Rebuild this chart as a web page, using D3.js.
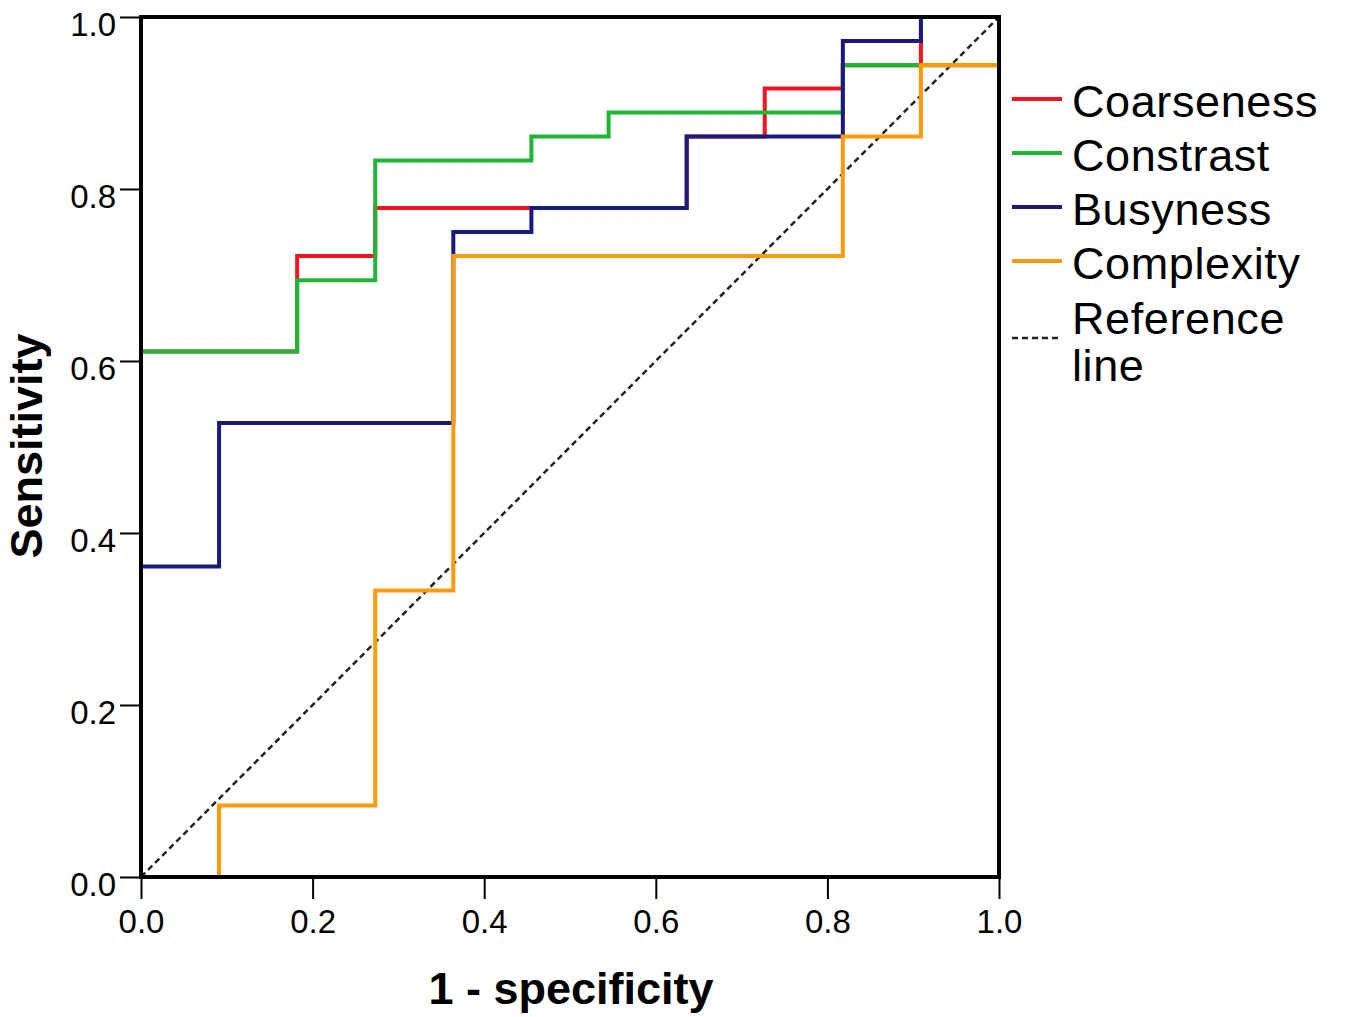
<!DOCTYPE html>
<html>
<head>
<meta charset="utf-8">
<script src="https://cdn.jsdelivr.net/npm/d3@7"></script>
<style>
  html, body { margin: 0; padding: 0; background: #fff; }
  svg { display: block; }
</style>
</head>
<body>
<svg id="chart" width="1345" height="1017"></svg>
<script>
// ---- Data (ROC step points: 1 - specificity, sensitivity) ----
const seriesNames = ["Coarseness", "Constrast", "Busyness", "Complexity"];

const coarsenessX = [0, 0, 0.182, 0.182, 0.273, 0.273, 0.636, 0.636, 0.727, 0.727, 0.818, 0.818, 0.909, 0.909, 1];
const coarsenessY = [0, 0.611, 0.611, 0.722, 0.722, 0.778, 0.778, 0.861, 0.861, 0.917, 0.917, 0.944, 0.944, 1, 1];

const constrastX = [0, 0, 0.182, 0.182, 0.273, 0.273, 0.455, 0.455, 0.545, 0.545, 0.818, 0.818, 1, 1];
const constrastY = [0, 0.611, 0.611, 0.694, 0.694, 0.833, 0.833, 0.861, 0.861, 0.889, 0.889, 0.944, 0.944, 1];

const busynessX = [0, 0, 0.091, 0.091, 0.364, 0.364, 0.455, 0.455, 0.636, 0.636, 0.818, 0.818, 0.909, 0.909, 1];
const busynessY = [0, 0.361, 0.361, 0.528, 0.528, 0.75, 0.75, 0.778, 0.778, 0.861, 0.861, 0.972, 0.972, 1, 1];

const complexityX = [0, 0.091, 0.091, 0.273, 0.273, 0.364, 0.364, 0.818, 0.818, 0.909, 0.909, 1, 1];
const complexityY = [0, 0, 0.083, 0.083, 0.333, 0.333, 0.722, 0.722, 0.861, 0.861, 0.944, 0.944, 1];

const referenceX = [0, 1];
const referenceY = [0, 1];

const xTicks = [0, 0.2, 0.4, 0.6, 0.8, 1.0];
const yTicks = [0, 0.2, 0.4, 0.6, 0.8, 1.0];
const tickLabels = ["0.0", "0.2", "0.4", "0.6", "0.8", "1.0"];

const colors = ["#f2141f", "#1fb536", "#1a1a7c", "#ff9a0c"];

// ---- Layout ----
const svg = d3.select("#chart");
const x = d3.scaleLinear().domain([0, 1]).range([141, 999]);
const y = d3.scaleLinear().domain([0, 1]).range([877, 17]);

const zip = (xs, ys) => xs.map((v, i) => [v, ys[i]]);
const line = d3.line().x(d => x(d[0])).y(d => y(d[1]));

// Axes
const xAxis = d3.axisBottom(x).tickValues(xTicks)
  .tickFormat((d, i) => tickLabels[i]).tickSize(22).tickPadding(10);
const yAxis = d3.axisLeft(y).tickValues(yTicks)
  .tickFormat((d, i) => tickLabels[i]).tickSize(21).tickPadding(4);

const gx = svg.append("g").attr("transform", `translate(0,${y(0)})`).call(xAxis);
const gy = svg.append("g").attr("transform", `translate(${x(0)},0)`).call(yAxis);
[gx, gy].forEach(g => {
  g.select(".domain").remove();
  g.selectAll(".tick line").attr("stroke", "#000").attr("stroke-width", 2);
  g.selectAll(".tick text")
    .attr("fill", "#000")
    .style("font-family", "Arial, 'Liberation Sans', sans-serif")
    .style("font-size", "33px");
});
gy.selectAll(".tick text").attr("dy", "0.55em");
gx.selectAll(".tick text").attr("dy", "0.72em");

// Reference line
svg.append("path")
  .attr("d", line(zip(referenceX, referenceY)))
  .attr("fill", "none")
  .attr("stroke", "#222")
  .attr("stroke-width", 2.5)
  .attr("stroke-dasharray", "6,4");

// Series
const seriesData = [
  zip(coarsenessX, coarsenessY),
  zip(constrastX, constrastY),
  zip(busynessX, busynessY),
  zip(complexityX, complexityY)
];
seriesData.forEach((pts, i) => {
  svg.append("path")
    .attr("d", line(pts))
    .attr("fill", "none")
    .attr("stroke", colors[i])
    .attr("stroke-width", 4)
    .attr("stroke-linejoin", "miter");
});

// Frame
svg.append("rect")
  .attr("x", x(0)).attr("y", y(1))
  .attr("width", x(1) - x(0)).attr("height", y(0) - y(1))
  .attr("fill", "none").attr("stroke", "#000").attr("stroke-width", 4);

// Axis titles
svg.append("text")
  .attr("x", 571).attr("y", 1004)
  .attr("text-anchor", "middle")
  .style("font-family", "Arial, 'Liberation Sans', sans-serif")
  .style("font-weight", "bold").style("font-size", "45px")
  .text("1 - specificity");

svg.append("text")
  .attr("transform", "translate(42,446) rotate(-90)")
  .attr("text-anchor", "middle")
  .style("font-family", "Arial, 'Liberation Sans', sans-serif")
  .style("font-weight", "bold").style("font-size", "45px")
  .text("Sensitivity");

// Legend
const legendY = [99, 153, 207, 261];
const legendBase = [117, 171, 225, 279];
const lg = svg.append("g");
seriesNames.forEach((name, i) => {
  lg.append("line")
    .attr("x1", 1012).attr("x2", 1062)
    .attr("y1", legendY[i]).attr("y2", legendY[i])
    .attr("stroke", colors[i]).attr("stroke-width", 4);
  lg.append("text")
    .attr("x", 1072).attr("y", legendBase[i])
    .style("font-family", "Arial, 'Liberation Sans', sans-serif")
    .style("font-size", "45px")
    .style("letter-spacing", "0.6px")
    .text(name);
});
lg.append("line")
  .attr("x1", 1012).attr("x2", 1062)
  .attr("y1", 338).attr("y2", 338)
  .attr("stroke", "#222").attr("stroke-width", 2.5)
  .attr("stroke-dasharray", "6,4");
const refText = lg.append("text")
  .style("font-family", "Arial, 'Liberation Sans', sans-serif")
  .style("font-size", "45px")
  .style("letter-spacing", "0.6px");
refText.append("tspan").attr("x", 1072).attr("y", 334).text("Reference");
refText.append("tspan").attr("x", 1072).attr("y", 381).text("line");
</script>
</body>
</html>
